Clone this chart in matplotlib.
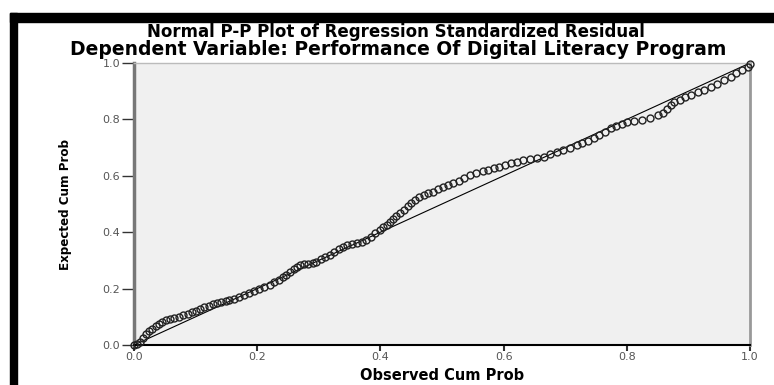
import matplotlib
matplotlib.use("Agg")
import matplotlib.pyplot as plt
from matplotlib import font_manager
from matplotlib.patches import Rectangle

# observed vs expected cumulative probabilities
observed = [0.000, 0.005, 0.010, 0.015, 0.020, 0.025, 0.030, 0.035, 0.040, 0.046,
            0.052, 0.058, 0.065, 0.073, 0.080, 0.087, 0.094, 0.100, 0.107, 0.114,
            0.121, 0.128, 0.135, 0.142, 0.149, 0.155, 0.162, 0.170, 0.178, 0.187,
            0.195, 0.203, 0.211, 0.220, 0.228, 0.236, 0.242, 0.247, 0.253, 0.259,
            0.264, 0.269, 0.276, 0.283, 0.290, 0.296, 0.303, 0.310, 0.318, 0.325,
            0.332, 0.339, 0.346, 0.354, 0.362, 0.370, 0.377, 0.385, 0.392, 0.399,
            0.405, 0.410, 0.415, 0.420, 0.426, 0.432, 0.438, 0.444, 0.450, 0.456,
            0.463, 0.470, 0.478, 0.486, 0.494, 0.502, 0.510, 0.518, 0.527, 0.536,
            0.546, 0.556, 0.566, 0.575, 0.584, 0.593, 0.603, 0.612, 0.622, 0.632,
            0.643, 0.654, 0.665, 0.676, 0.687, 0.697, 0.708, 0.719, 0.728, 0.737,
            0.746, 0.755, 0.764, 0.774, 0.783, 0.792, 0.800, 0.812, 0.824, 0.837,
            0.850, 0.858, 0.866, 0.872, 0.877, 0.886, 0.895, 0.904, 0.915, 0.926,
            0.936, 0.946, 0.957, 0.969, 0.978, 0.987, 0.996, 1.000]
expected = [0.000, 0.004, 0.012, 0.025, 0.038, 0.050, 0.058, 0.066, 0.074, 0.083,
            0.088, 0.092, 0.096, 0.100, 0.105, 0.110, 0.117, 0.122, 0.128, 0.134,
            0.140, 0.145, 0.150, 0.154, 0.157, 0.160, 0.164, 0.170, 0.176, 0.183,
            0.190, 0.197, 0.204, 0.213, 0.222, 0.232, 0.240, 0.248, 0.258, 0.268,
            0.277, 0.282, 0.286, 0.289, 0.292, 0.296, 0.305, 0.312, 0.319, 0.330,
            0.340, 0.349, 0.353, 0.358, 0.362, 0.367, 0.372, 0.384, 0.396, 0.408,
            0.418, 0.427, 0.437, 0.447, 0.457, 0.467, 0.480, 0.492, 0.503, 0.514,
            0.524, 0.532, 0.538, 0.544, 0.552, 0.560, 0.568, 0.573, 0.582, 0.592,
            0.603, 0.609, 0.616, 0.622, 0.627, 0.632, 0.638, 0.644, 0.650, 0.655,
            0.658, 0.662, 0.668, 0.677, 0.685, 0.692, 0.700, 0.709, 0.717, 0.725,
            0.733, 0.745, 0.757, 0.768, 0.776, 0.784, 0.790, 0.793, 0.797, 0.805,
            0.814, 0.822, 0.837, 0.850, 0.862, 0.870, 0.879, 0.887, 0.897, 0.906,
            0.916, 0.927, 0.939, 0.951, 0.963, 0.975, 0.987, 0.997]
ref_line = [0.0, 1.0]
ticks = [0.0, 0.2, 0.4, 0.6, 0.8, 1.0]
tick_labels = ["0.0", "0.2", "0.4", "0.6", "0.8", "1.0"]

# condensed face for the y label if one is installed
names = {f.name for f in font_manager.fontManager.ttflist}
narrow = "Liberation Sans Narrow" if "Liberation Sans Narrow" in names else "DejaVu Sans"

fig = plt.figure(figsize=(7.74, 3.85), dpi=100)
W, H = 774.0, 385.0
ax = fig.add_axes([134 / W, 1 - 345 / H, (750 - 134) / W, (345 - 63) / H])
ax.set_facecolor("#f0f0f0")

ax.plot(ref_line, ref_line, color="black", lw=0.8, zorder=2)
ax.plot(observed, expected, ls="none", marker="o", ms=5, mfc="none",
        mec="#222222", mew=1.0, zorder=3, clip_on=False)

ax.set_xlim(0, 1)
ax.set_ylim(0, 1)
ax.set_xticks(ticks)
ax.set_yticks(ticks)
ax.set_xticklabels(tick_labels)
ax.set_yticklabels(tick_labels)
ax.tick_params(axis="y", direction="out", length=9, width=1, color="#333333",
               labelsize=8, labelcolor="#555555", pad=1)
ax.tick_params(axis="x", direction="out", length=4, width=1.5, color="#333333",
               labelsize=8, labelcolor="#555555", pad=1)

ax.spines["left"].set_color("#777777")
ax.spines["left"].set_linewidth(2.5)
ax.spines["right"].set_color("#999999")
ax.spines["right"].set_linewidth(2)
ax.spines["top"].set_color("#bbbbbb")
ax.spines["top"].set_linewidth(1)
ax.spines["bottom"].set_color("black")
ax.spines["bottom"].set_linewidth(1.5)

ax.set_xlabel("Observed Cum Prob", fontsize=10.5, fontweight="bold",
              family="DejaVu Sans", labelpad=4)
ax.set_ylabel("Expected Cum Prob", fontsize=9.5, fontweight="bold",
              family=narrow, fontstretch="condensed", labelpad=22)

fig.text(396 / W, 1 - 37 / H, "Normal P-P Plot of Regression Standardized Residual",
         ha="center", va="baseline", fontsize=12, fontweight="bold", family="DejaVu Sans")
fig.text(398 / W, 1 - 55 / H, "Dependent Variable: Performance Of Digital Literacy Program",
         ha="center", va="baseline", fontsize=13.5, fontweight="bold", family="DejaVu Sans")

# black frame pieces at top and left
fig.patches.append(Rectangle((10 / W, 1 - 22 / H), 1, 9 / H, transform=fig.transFigure,
                             color="black", zorder=10))
fig.patches.append(Rectangle((10 / W, 0), 7 / W, 1 - 13 / H, transform=fig.transFigure,
                             color="black", zorder=10))

fig.savefig("out.png", dpi=100, facecolor="white")
